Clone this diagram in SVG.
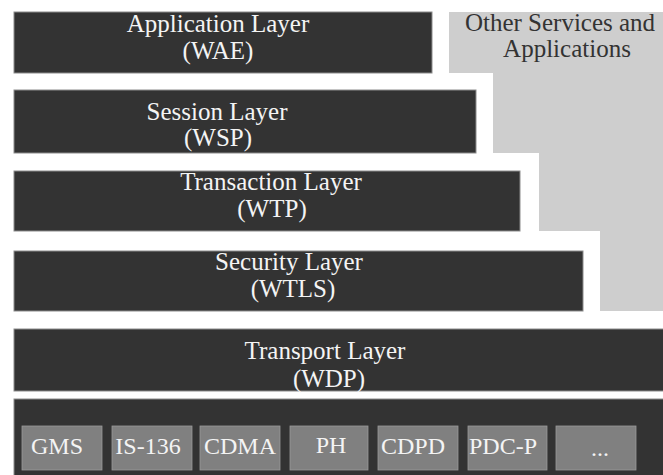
<svg xmlns="http://www.w3.org/2000/svg" width="663" height="475" viewBox="0 0 663 475">
  <style>
    .bar { fill: #333333; stroke: #8c8c8c; stroke-width: 1; }
    .side { fill: #cecece; }
    .proto { fill: #808080; stroke: #999999; stroke-width: 0.8; }
    .lbl { font-family: "Liberation Serif", "Times New Roman", serif; font-size: 25px; fill: #f4f4f4; text-anchor: middle; }
    .dark { fill: #333333; }
    .plbl { font-family: "Liberation Serif", "Times New Roman", serif; font-size: 24px; fill: #f4f4f4; text-anchor: middle; }
  </style>
  <rect width="663" height="475" fill="#ffffff"/>

  <!-- stepped side column beside the upper layers -->
  <g id="other-services">
    <polygon class="side" points="449,12 663,12 663,311 600,311 600,231 539,231 539,153 493,153 493,73 449,73"/>
    <text class="lbl dark" x="560" y="31">Other Services and</text>
    <text class="lbl dark" x="567" y="57">Applications</text>
  </g>

  <g id="application-layer">
    <rect class="bar" x="14" y="12" width="418" height="61"/>
    <text class="lbl" x="218" y="32">Application Layer</text>
    <text class="lbl" x="218" y="59">(WAE)</text>
  </g>

  <g id="session-layer">
    <rect class="bar" x="14" y="90" width="462" height="63"/>
    <text class="lbl" x="217" y="120">Session Layer</text>
    <text class="lbl" x="218" y="146">(WSP)</text>
  </g>

  <g id="transaction-layer">
    <rect class="bar" x="14" y="171" width="506" height="60"/>
    <text class="lbl" x="271" y="190">Transaction Layer</text>
    <text class="lbl" x="272" y="217">(WTP)</text>
  </g>

  <g id="security-layer">
    <rect class="bar" x="14" y="251" width="569" height="60"/>
    <text class="lbl" x="289" y="270">Security Layer</text>
    <text class="lbl" x="293" y="297">(WTLS)</text>
  </g>

  <g id="transport-layer">
    <rect class="bar" x="14" y="329" width="660" height="62"/>
    <text class="lbl" x="325" y="359">Transport Layer</text>
    <text class="lbl" x="329" y="387">(WDP)</text>
  </g>

  <g id="bearers">
    <rect class="bar" x="14" y="399" width="660" height="80"/>
    <g id="bearer-gms">
      <rect class="proto" x="22" y="426" width="80" height="44"/>
      <text class="plbl" x="57" y="454">GMS</text>
    </g>
    <g id="bearer-is136">
      <rect class="proto" x="112" y="426" width="80" height="44"/>
      <text class="plbl" x="148" y="454">IS-136</text>
    </g>
    <g id="bearer-cdma">
      <rect class="proto" x="200" y="426" width="80" height="44"/>
      <text class="plbl" x="240" y="454">CDMA</text>
    </g>
    <g id="bearer-ph">
      <rect class="proto" x="290" y="426" width="78" height="44"/>
      <text class="plbl" x="331" y="453">PH</text>
    </g>
    <g id="bearer-cdpd">
      <rect class="proto" x="378" y="426" width="80" height="44"/>
      <text class="plbl" x="413" y="454">CDPD</text>
    </g>
    <g id="bearer-pdcp">
      <rect class="proto" x="468" y="426" width="79" height="44"/>
      <text class="plbl" x="503" y="454">PDC-P</text>
    </g>
    <g id="bearer-more">
      <rect class="proto" x="556" y="426" width="80" height="44"/>
      <text class="plbl" x="600" y="456">...</text>
    </g>
  </g>

  <g id="connectors"/>
</svg>
